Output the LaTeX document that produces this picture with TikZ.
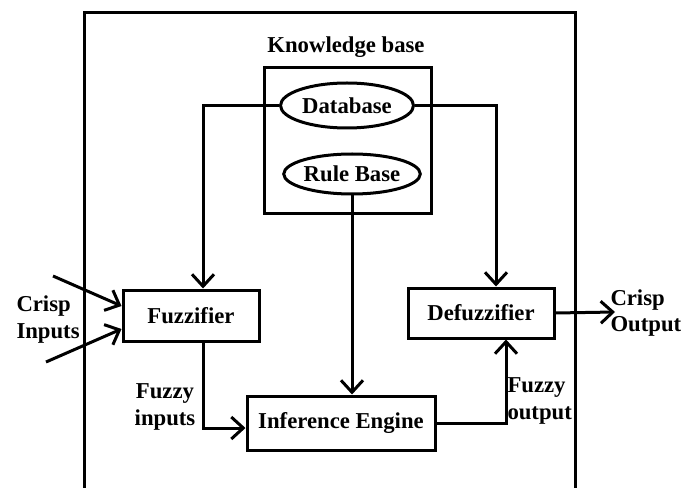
\documentclass[tikz,border=0pt]{standalone}
\usepackage{fontspec}
\setmainfont{Liberation Serif}
\usetikzlibrary{arrows.meta,shapes.geometric}
\begin{document}
\begin{tikzpicture}[x=1bp,y=-1bp, line width=3bp,
  every node/.style={font=\fontsize{22.8}{26.5}\selectfont\bfseries},
  blockbox/.style={draw, rectangle, inner sep=0pt},
  oval/.style={draw, ellipse, inner sep=0pt},
  lbl/.style={inner sep=0pt},
  arr/.style={-{Straight Barb[length=12bp,width=22bp]}}]
\useasboundingbox (0,0) rectangle (691,488);
% outer frame (open at the bottom, cut by the page edge)
\draw (84,492) -- (84,13) -- (575,13) -- (575,492);
% knowledge base
\node[lbl, anchor=base] (kbt) at (346,53) {Knowledge base};
\node[blockbox, minimum width=167bp, minimum height=145bp] (kb) at (347.5,140.5) {};
\node[oval, minimum width=133bp, minimum height=45bp] (db) at (347,105.5) {Database};
\node[oval, minimum width=124bp, minimum height=40bp] (rb) at (352,174) {Rule Base};
% blocks
\node[blockbox, minimum width=136bp, minimum height=51bp] (fuzz) at (191,315.5) {Fuzzifier};
\node[blockbox, minimum width=146bp, minimum height=50bp] (defuzz) at (481,313) {Defuzzifier};
\node[blockbox, minimum width=188bp, minimum height=54bp] (inf) at (341,423) {Inference Engine};
% free ends
\coordinate (ci1) at (53,276);
\coordinate (ci2) at (46,362);
\coordinate (co) at (615,312);
% connectors
\draw[arr] (db.west) -| ([xshift=12bp]fuzz.north);
\draw[arr] (db.east) -| ([xshift=15bp]defuzz.north);
\draw[arr] (rb.south) -- (rb.south |- inf.north);
\draw[arr] ([xshift=12bp]fuzz.south) |- ([yshift=-5bp]inf.west);
\draw[arr] (inf.east) -| ([xshift=25bp]defuzz.south);
\draw[arr] (defuzz.east) -- (co);
\draw[arr] (ci1) -- ([yshift=9.5bp]fuzz.west);
\draw[arr] (ci2) -- ([yshift=-13.5bp]fuzz.west);
% labels
\node[lbl, align=left, anchor=west] (cil) at (15,319.5) {Crisp\\Inputs};
\node[lbl, align=center] (fil) at (165,407) {Fuzzy\\inputs};
\node[lbl, align=left, anchor=west] (fol) at (506,401) {Fuzzy\\output};
\node[lbl, align=left, anchor=west] (col) at (609,313) {Crisp\\Output};
\end{tikzpicture}
\end{document}
